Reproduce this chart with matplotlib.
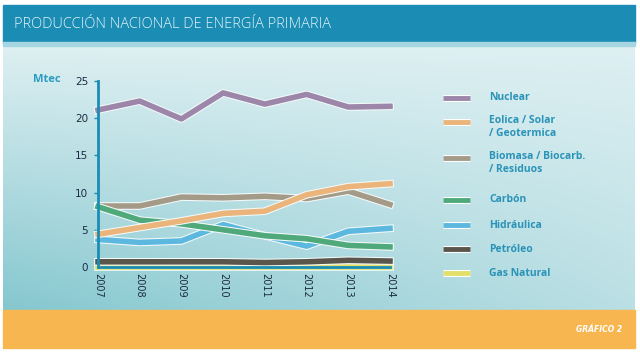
import matplotlib.pyplot as plt
import matplotlib.patheffects as pe
import numpy as np
from matplotlib.patches import Rectangle
from matplotlib.lines import Line2D

# datos (Mtec)
years = [2007, 2008, 2009, 2010, 2011, 2012, 2013, 2014]
nuclear = [21.1, 22.3, 19.9, 23.4, 21.9, 23.2, 21.5, 21.6]
eolica = [4.4, 5.3, 6.2, 7.2, 7.5, 9.7, 10.8, 11.2]
biomasa = [8.2, 8.2, 9.4, 9.3, 9.5, 9.2, 10.2, 8.4]
carbon = [8.1, 6.3, 5.8, 5.0, 4.2, 3.8, 2.9, 2.7]
hidraulica = [3.7, 3.3, 3.5, 5.7, 4.2, 2.8, 4.8, 5.2]
petroleo = [0.7, 0.7, 0.7, 0.7, 0.6, 0.7, 0.9, 0.8]
gas = [0.05, 0.05, 0.05, 0.05, 0.05, 0.05, 0.05, 0.05]

labels = ['Nuclear', 'Eolica / Solar\n/ Geotermica', 'Biomasa / Biocarb.\n/ Residuos',
          'Carbón', 'Hidráulica', 'Petróleo', 'Gas Natural']
colors = ['#9c86aa', '#eab47a', '#a49a88', '#4fa97a', '#5cb8df', '#5a564c', '#e3df6a']
yticks = [0, 5, 10, 15, 20, 25]

fig = plt.figure(figsize=(6.4, 3.53), dpi=100)

# fondo
bg = fig.add_axes([0, 0, 1, 1])
bg.set_xlim(0, 640)
bg.set_ylim(353, 0)
bg.axis('off')
h, w = 264, 632
yy, xx = np.mgrid[0:h, 0:w]
t = (yy / h) * (1 - 0.6 * xx / w)
light = np.array([0.87, 0.94, 0.95])
dark = np.array([0.52, 0.78, 0.81])
grad = light + t[..., None] * (dark - light)
bg.imshow(grad, extent=(3, 635, 310, 46), aspect='auto', zorder=0)
bg.add_patch(Rectangle((3, 5), 632, 38, color='#1b8db4', zorder=1))
bg.add_patch(Rectangle((3, 42), 632, 4, color='#a6d6e2', zorder=1))
bg.add_patch(Rectangle((3, 310), 632, 38, color='#f8b650', zorder=1))
bg.text(14, 24, 'PRODUCCIÓN NACIONAL DE ENERGÍA PRIMARIA', color='#dff2f6',
        fontsize=10.5, va='center', ha='left', family='Open Sans', weight='light')
bg.text(622, 329, 'GRÁFICO 2', color='white', fontsize=5.5, style='italic',
        weight='bold', va='center', ha='right')
bg.text(47, 80, 'Mtec', color='#2a9cc2', fontsize=8, weight='bold',
        va='center', ha='center', family='Open Sans')

# leyenda manual
leg_y = [98, 122, 158, 200, 225, 249, 273]
for lab, c, y in zip(labels, colors, leg_y):
    bg.add_line(Line2D([443, 470], [y, y], color=c, lw=3.5, solid_capstyle='butt',
                       path_effects=[pe.withStroke(linewidth=5, foreground='white')]))
    if '\n' in lab:
        bg.text(489, y - 7, lab, color='#2a93b8', fontsize=7.5, weight='bold', va='top',
                ha='left', family='Open Sans', linespacing=1.25)
    else:
        bg.text(489, y, lab, color='#2a93b8', fontsize=7.5, weight='bold', va='center',
                ha='left', family='Open Sans')

# grafico
ax = fig.add_axes([98 / 640, 1 - 267 / 353, 292 / 640, 186 / 353])
ax.patch.set_alpha(0)
series = [gas, petroleo, hidraulica, biomasa, carbon, eolica, nuclear]
order = [6, 5, 4, 2, 3, 1, 0]
for s, i in zip(series, order):
    ax.plot(years, s, color=colors[i], lw=4, clip_on=False, zorder=2,
            path_effects=[pe.withStroke(linewidth=5.5, foreground='#f4fafa')])
ax.set_xlim(2007, 2014)
ax.set_ylim(0, 25)
ax.set_yticks(yticks)
ax.set_xticks(years)
ax.set_xticklabels([str(y) for y in years], rotation=270)
for sp in ['top', 'right']:
    ax.spines[sp].set_visible(False)
for sp in ['left', 'bottom']:
    ax.spines[sp].set_color('#1a8db5')
    ax.spines[sp].set_linewidth(2)
    ax.spines[sp].set_zorder(3)
ax.tick_params(axis='y', colors='#1a8db5', length=3, width=1, labelcolor='#1d2c44',
               labelsize=7.5, pad=4)
ax.tick_params(axis='x', length=0, labelcolor='#1d2c44', labelsize=7, pad=4)

fig.savefig('out.png', dpi=100)
